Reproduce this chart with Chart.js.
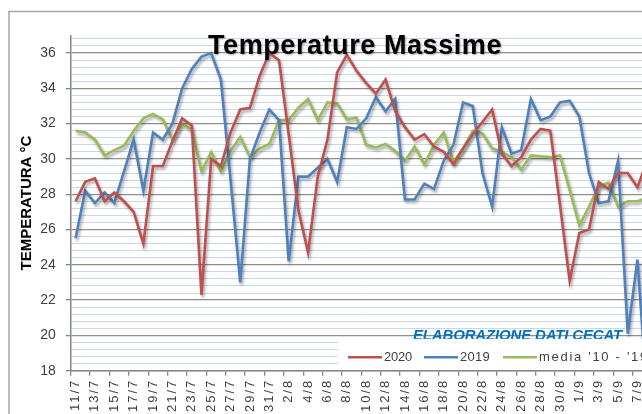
<!DOCTYPE html>
<html>
<head>
<meta charset="utf-8">
<script src="https://cdn.jsdelivr.net/npm/chart.js@4/dist/chart.umd.min.js"></script>
<style>
html, body { margin: 0; padding: 0; background: #ffffff; overflow: hidden; width: 642px; height: 414px; }
#wrap { position: relative; width: 672px; height: 414px; }
</style>
</head>
<body>
<div id="wrap"><canvas id="c" width="672" height="414"></canvas></div>
<script>
// ---------------- data ----------------
const categories = [
  '11/7','12/7','13/7','14/7','15/7','16/7','17/7','18/7','19/7','20/7',
  '21/7','22/7','23/7','24/7','25/7','26/7','27/7','28/7','29/7','30/7',
  '31/7','1/8','2/8','3/8','4/8','5/8','6/8','7/8','8/8','9/8',
  '10/8','11/8','12/8','13/8','14/8','15/8','16/8','17/8','18/8','19/8',
  '20/8','21/8','22/8','23/8','24/8','25/8','26/8','27/8','28/8','29/8',
  '30/8','31/8','1/9','2/9','3/9','4/9','5/9','6/9','7/9','8/9'
];
const values2020 = [
  27.6, 28.7, 28.9, 27.6, 28.1, 27.6, 27.0, 25.2, 29.6, 29.6,
  31.0, 32.3, 31.9, 22.3, 30.0, 29.6, 31.5, 32.8, 32.9, 34.7,
  36.0, 35.6, 31.4, 27.1, 24.7, 29.0, 31.1, 34.9, 35.9, 35.0,
  34.3, 33.7, 34.5, 32.7, 31.8, 31.1, 31.4, 30.7, 30.4, 29.7,
  30.6, 31.4, 32.1, 32.8, 30.3, 29.6, 30.1, 31.1, 31.7, 31.6,
  27.4, 23.1, 25.8, 26.0, 28.7, 28.3, 29.2, 29.2, 28.4, 29.9
];
const values2019 = [
  25.5, 28.2, 27.5, 28.1, 27.5, 29.3, 31.1, 28.2, 31.5, 31.1,
  32.0, 34.0, 35.1, 35.8, 36.0, 34.5, 28.8, 23.0, 30.0, 31.5,
  32.8, 32.2, 24.2, 29.0, 29.0, 29.5, 30.0, 28.7, 31.8, 31.7,
  32.3, 33.5, 32.7, 33.4, 27.7, 27.7, 28.6, 28.3, 29.9, 30.8,
  33.2, 33.0, 29.2, 27.3, 31.8, 30.3, 30.5, 33.4, 32.2, 32.4,
  33.2, 33.3, 32.4, 29.2, 27.5, 27.6, 29.9, 20.1, 24.3, 16.5
];
const valuesMedia = [
  31.6, 31.5, 31.1, 30.2, 30.5, 30.75, 31.6, 32.3, 32.55, 32.25,
  31.1, 32.0, 31.65, 29.3, 30.4, 29.3, 30.45, 31.25, 30.1, 30.6,
  30.85, 32.2, 32.2, 32.9, 33.4, 32.2, 33.2, 33.15, 32.25, 32.35,
  30.8, 30.65, 30.85, 30.45, 29.9, 30.7, 29.7, 30.8, 31.5, 29.8,
  30.6, 31.6, 31.45, 30.6, 30.4, 30.1, 29.4, 30.2, 30.15, 30.1,
  30.2, 28.25, 26.25, 27.3, 28.45, 28.65, 27.3, 27.6, 27.6, 27.8
];
const seriesLabels = ['2020', '2019', "media '10 - '19"];
const seriesColors = ['#C0504D', '#4F81BD', '#9BBB59'];
const yTickLabels = [18, 20, 22, 24, 26, 28, 30, 32, 34, 36];
const yMin = 18, yMax = 37, yMinorStep = 0.4;
const chartTitle = 'Temperature Massime';
const yAxisTitle = 'TEMPERATURA °C';
const creditText = 'ELABORAZIONE DATI CECAT';

// ---------------- helpers ----------------
const FONT = "'Liberation Sans', Arial, sans-serif";
const GRID_MAJOR = '#8f8f8f';
const GRID_MINOR = '#c9d7ee';
const AXIS = '#868686';
const TEXT = '#404040';

function isMajor(v) { return yTickLabels.some(t => Math.abs(t - v) < 1e-6); }
const minorTicks = [];
for (let k = 0; yMin + k * yMinorStep <= yMax + 1e-9; k++) {
  minorTicks.push(Math.round((yMin + k * yMinorStep) * 100) / 100);
}

function fitText(ctx, text, x, y, targetW, align) {
  ctx.letterSpacing = '0px';
  const w0 = ctx.measureText(text).width;
  const n = text.length;
  if (n > 1) ctx.letterSpacing = ((targetW - w0) / n).toFixed(2) + 'px';
  const w = ctx.measureText(text).width;
  let sx = x;
  if (align === 'center') sx = x - w / 2;
  ctx.textAlign = 'left';
  ctx.fillText(text, sx, y);
  ctx.letterSpacing = '0px';
  return w;
}

// ---------------- plugins ----------------
const framePlugin = {
  id: 'frame',
  beforeDraw(chart) {
    const ctx = chart.ctx;
    ctx.save();
    ctx.fillStyle = '#ffffff';
    ctx.fillRect(0, 0, chart.width, chart.height);
    ctx.strokeStyle = '#a6a6a6';
    ctx.lineWidth = 1.5;
    ctx.strokeRect(9, 11.5, chart.width + 20, chart.height + 20);
    ctx.restore();
  }
};

const shadowPlugin = {
  id: 'lineShadow',
  beforeDatasetDraw(chart) {
    const ctx = chart.ctx;
    ctx.save();
    ctx.shadowColor = 'rgba(0,0,0,0.35)';
    ctx.shadowBlur = 3;
    ctx.shadowOffsetX = 1.5;
    ctx.shadowOffsetY = 2.5;
  },
  afterDatasetDraw(chart) {
    chart.ctx.restore();
  }
};

const legendSampleX = [348, 424, 503];
const legendTextW = [28, 30, 110];

const annotPlugin = {
  id: 'annot',
  afterDraw(chart) {
    const ctx = chart.ctx;
    const area = chart.chartArea;
    const ys = chart.scales.y;
    ctx.save();

    // credit text
    ctx.font = 'italic bold 15px ' + FONT;
    ctx.fillStyle = '#0070C0';
    ctx.textBaseline = 'alphabetic';
    fitText(ctx, creditText, 413, ys.getPixelForValue(20) + 4.5, 209, 'left');

    // legend box
    const ly = ys.getPixelForValue(18) - 13.5;
    ctx.fillStyle = '#ffffff';
    ctx.fillRect(338, ys.getPixelForValue(20) + 3.5, 360, area.bottom - ys.getPixelForValue(20) - 4.5);
    ctx.font = '13px ' + FONT;
    ctx.textBaseline = 'middle';
    chart.data.datasets.forEach((ds, i) => {
      const x = legendSampleX[i];
      ctx.strokeStyle = ds.borderColor;
      ctx.lineWidth = 2.6;
      ctx.beginPath();
      ctx.moveTo(x, ly);
      ctx.lineTo(x + 34, ly);
      ctx.stroke();
      ctx.fillStyle = TEXT;
      fitText(ctx, ds.label, x + 36, ly + 0.5, legendTextW[i], 'left');
    });

    // title
    ctx.font = 'bold 27px ' + FONT;
    ctx.fillStyle = '#000000';
    ctx.textBaseline = 'alphabetic';
    ctx.shadowColor = 'rgba(0,0,0,0.35)';
    ctx.shadowBlur = 2;
    ctx.shadowOffsetX = 1;
    ctx.shadowOffsetY = 1.5;
    fitText(ctx, chartTitle, 355, 53.5, 294, 'center');
    ctx.restore();
  }
};

// ---------------- chart ----------------
const datasets = [values2020, values2019, valuesMedia].map((vals, i) => ({
  label: seriesLabels[i],
  data: vals,
  borderColor: seriesColors[i],
  backgroundColor: seriesColors[i],
  borderWidth: 2.6,
  pointRadius: 0,
  tension: 0,
  fill: false
}));

function spaceLabels(scale, spacing) {
  if (scale._spacedLabels) return;
  const orig = scale.drawLabels.bind(scale);
  scale.drawLabels = function (area) {
    const ctx = scale.ctx;
    ctx.save();
    ctx.letterSpacing = spacing;
    orig(area);
    ctx.restore();
  };
  scale._spacedLabels = true;
}

new Chart(document.getElementById('c'), {
  type: 'line',
  data: { labels: categories, datasets: datasets },
  options: {
    responsive: false,
    animation: false,
    devicePixelRatio: 1,
    events: [],
    layout: { padding: { left: 8, right: 20, top: 35.4, bottom: 0 } },
    plugins: {
      legend: { display: false },
      tooltip: { enabled: false },
      title: { display: false }
    },
    scales: {
      x: {
        type: 'category',
        offset: true,
        grid: {
          offset: true,
          drawOnChartArea: false,
          drawTicks: true,
          tickLength: 5,
          lineWidth: 1.3,
          color: (c) => (c.index % 2 === 0 ? AXIS : 'rgba(0,0,0,0)')
        },
        border: { color: AXIS, width: 1.5 },
        ticks: {
          autoSkip: false,
          maxRotation: 90,
          minRotation: 90,
          padding: 3,
          color: TEXT,
          font: { family: FONT, size: 13 },
          callback: function (val, idx) {
            return idx % 2 === 0 ? this.getLabelForValue(val) : '';
          }
        },
        afterFit: (s) => { s.height = 43.3; },
        afterUpdate: (s) => spaceLabels(s, '2px')
      },
      y: {
        min: yMin,
        max: yMax,
        afterBuildTicks: (s) => { s.ticks = minorTicks.map(v => ({ value: v })); },
        grid: {
          drawTicks: true,
          tickLength: 5,
          color: (c) => (c.tick && isMajor(c.tick.value) ? GRID_MAJOR : GRID_MINOR),
          lineWidth: (c) => (c.tick && isMajor(c.tick.value) ? 1.3 : 1),
          tickColor: (c) => (c.tick && isMajor(c.tick.value) ? AXIS : 'rgba(0,0,0,0)')
        },
        border: { color: AXIS, width: 1.5 },
        ticks: {
          autoSkip: false,
          padding: 10,
          color: TEXT,
          font: { family: FONT, size: 14 },
          callback: (v) => (isMajor(v) ? String(Math.round(v)) : '')
        },
        title: {
          display: true,
          text: yAxisTitle,
          color: '#000000',
          font: { family: FONT, size: 15, weight: 'bold' },
          padding: { top: 10, bottom: 0 }
        },
        afterFit: (s) => { s.width = 62.7; }
      }
    }
  },
  plugins: [framePlugin, shadowPlugin, annotPlugin]
});
</script>
</body>
</html>
